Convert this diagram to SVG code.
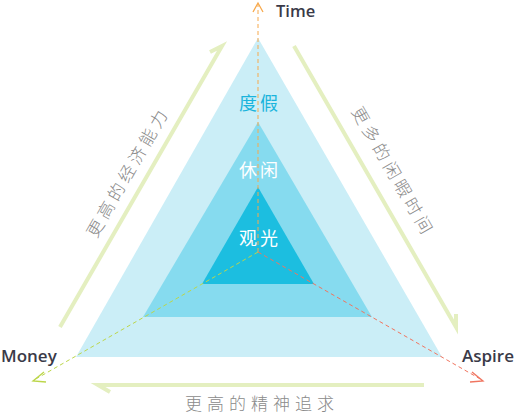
<svg xmlns="http://www.w3.org/2000/svg" width="515" height="414" viewBox="0 0 515 414">
<defs>
<style>
.axis{font-family:"Open Sans","Liberation Sans",sans-serif;font-weight:600;font-size:17px;fill:#3a3a48}
.side{font-family:"Noto Sans CJK SC",sans-serif;font-size:17px;fill:#8a8a8a;letter-spacing:4px;font-weight:300}
.lvl{font-family:"Noto Sans CJK SC",sans-serif;font-size:18px;letter-spacing:3px;text-anchor:middle}
.harp{fill:none;stroke:#e4efc0;stroke-width:4;stroke-linecap:butt}
.dash{fill:none;stroke-width:1;stroke-dasharray:4 3}
.head{fill:none;stroke-width:1.3}
</style>
</defs>
<g id="outer"><polygon points="258,38 76,357 442,357" fill="#cbeef7"/></g>
<g id="middle"><polygon points="258,122 143,317 372,317" fill="#86dbef"/></g>
<g id="inner"><polygon points="258,187 202,284 314,284" fill="#1cbee0"/></g>
<g id="connectors">
<path class="dash" stroke="#f7a94c" d="M258,252 V4"/>
<path class="head" stroke="#f7a94c" d="M253,12 L258,3 L263,12"/>
<path class="dash" stroke="#bcd64a" d="M258,252 L34,380"/>
<path class="head" stroke="#bcd64a" d="M44,372 L33,381 L46,382"/>
<path class="dash" stroke="#f07560" d="M258,252 L482,380"/>
<path class="head" stroke="#f07560" d="M472,372 L483,381 L470,382"/>
<path class="harp" d="M60,327 L222,46 L210,52"/>
<path class="harp" d="M294,46 L456,327 L456,314"/>
<path class="harp" d="M424,385 L98,385 L110,392"/>
</g>
<g id="labels">
<text class="axis" x="276" y="17" style="font-size:16.5px">Time</text>
<text class="axis" x="1" y="362">Money</text>
<text class="axis" x="462" y="362">Aspire</text>
<text class="lvl" x="260" y="110" fill="#1ab4dc">度假</text>
<text class="lvl" x="260" y="177" fill="#ffffff">休闲</text>
<text class="lvl" x="260" y="245" fill="#ffffff">观光</text>
<text class="side" text-anchor="middle" transform="translate(128,172) rotate(-60)" x="0" y="6">更高的经济能力</text>
<text class="side" text-anchor="middle" transform="translate(393,172) rotate(60)" x="0" y="6">更多的闲暇时间</text>
<text class="side" text-anchor="middle" x="262" y="410" style="letter-spacing:5px">更高的精神追求</text>
</g>
</svg>
